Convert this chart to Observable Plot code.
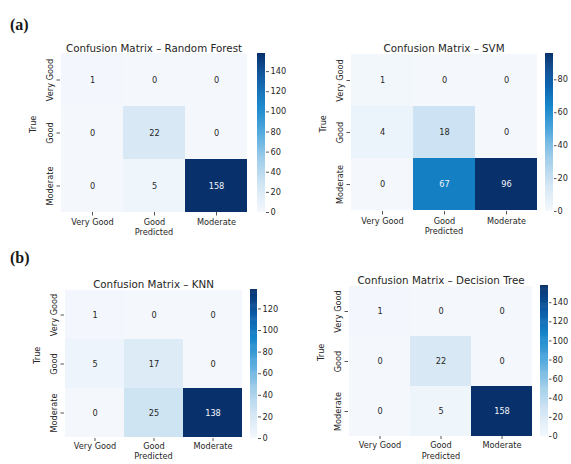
<!DOCTYPE html>
<html><head><meta charset="utf-8">
<script src="https://cdn.jsdelivr.net/npm/d3@7"></script>
<script src="https://cdn.jsdelivr.net/npm/@observablehq/plot@0.6"></script>
<style>
body{margin:0;background:#fff;}
#chart{position:relative;width:571px;height:464px;overflow:hidden;background:#fff;font-family:"DejaVu Sans",sans-serif;}
.panel-label{position:absolute;font-family:"Liberation Serif",serif;font-weight:bold;font-size:16px;color:#1a1a1a;line-height:1;}
#chart svg{position:absolute;overflow:visible;}
</style></head><body><div id="chart"></div>
<script>
// ---- data ----
const classes = ["Very Good", "Good", "Moderate"];
const panelLabels = ["(a)", "(b)"];
const modelTitles = ["Confusion Matrix – Random Forest", "Confusion Matrix – SVM", "Confusion Matrix – KNN", "Confusion Matrix – Decision Tree"];
const rfMatrix  = [[1, 0, 0], [0, 22, 0], [0, 5, 158]];
const svmMatrix = [[1, 0, 0], [4, 18, 0], [0, 67, 96]];
const knnMatrix = [[1, 0, 0], [5, 17, 0], [0, 25, 138]];
const dtMatrix  = [[1, 0, 0], [0, 22, 0], [0, 5, 158]];
const rfTicks  = [0, 20, 40, 60, 80, 100, 120, 140];
const svmTicks = [0, 20, 40, 60, 80];
const knnTicks = [0, 20, 40, 60, 80, 100, 120];
const dtTicks  = [0, 20, 40, 60, 80, 100, 120, 140];
const xLabel = "Predicted";
const yLabel = "True";

// ---- layout (not data) ----
const layouts = [
  {x: 60,  y: 53,  w: 187, h: 159, cbx: 257, cbw: 8, tk: 3, tp: 2, pdy: 22, xts: 3.5, xtp: 3.5},
  {x: 350, y: 53,  w: 187, h: 158, cbx: 545, cbw: 8, tk: 2.5, tp: 1.5, pdy: 22, xts: 3.5, xtp: 3.5},
  {x: 64,  y: 289, w: 178, h: 149, cbx: 250, cbw: 7, tk: 3, tp: 2, pdy: 20, xts: 3, xtp: 2},
  {x: 348, y: 285, w: 185, h: 151, cbx: 540, cbw: 8, tk: 2.5, tp: 1.5, pdy: 22, xts: 3, xtp: 2.5}
];
const labelPos = [{x: 10, y: 17}, {x: 10, y: 250}];

const blues = d3.piecewise(d3.interpolateRgb, ["#f4f8fd", "#d3e6f4", "#a0cdea", "#55aadd", "#1787cb", "#0b5aa5", "#08306b"]);
const ink = "#262626";
const chart = document.getElementById("chart");

function luminance(c) {
  const r = d3.rgb(c);
  const f = v => { v /= 255; return v <= 0.03928 ? v / 12.92 : Math.pow((v + 0.055) / 1.055, 2.4); };
  return 0.2126 * f(r.r) + 0.7152 * f(r.g) + 0.0722 * f(r.b);
}

function panel(matrix, title, ticks, L) {
  const max = d3.max(matrix.flat());
  const data = [];
  matrix.forEach((row, i) => row.forEach((v, j) => data.push({actual: classes[i], predicted: classes[j], value: v})));
  const isLight = d => luminance(blues(d.value / max)) > 0.408;
  const color = {type: "linear", domain: [0, max], interpolate: blues};
  const mL = 45, mT = 22, mB = 32, mR = 2;
  const hm = Plot.plot({
    width: L.w + mL + mR, height: L.h + mT + mB,
    marginLeft: mL, marginTop: mT, marginBottom: mB, marginRight: mR,
    style: {fontFamily: "DejaVu Sans", fontSize: "8.2px", color: ink, background: "transparent", overflow: "visible"},
    x: {domain: classes, padding: 0, axis: null},
    y: {domain: classes, padding: 0, axis: null},
    color,
    marks: [
      Plot.cell(data, {x: "predicted", y: "actual", fill: "value", shapeRendering: "crispEdges"}),
      Plot.text(data, {x: "predicted", y: "actual", text: d => String(d.value), fill: ink, fontSize: 8.2, filter: isLight}),
      Plot.text(data, {x: "predicted", y: "actual", text: d => String(d.value), fill: "#f2f6fb", fontSize: 8.2, filter: d => !isLight(d)}),
      Plot.axisX({anchor: "bottom", tickSize: L.xts, tickPadding: L.xtp, label: null, fontSize: 8.2, stroke: "#555"}),
      Plot.axisY({anchor: "left", tickSize: 3.5, tickPadding: 4, tickRotate: -90, label: null, fontSize: 8.2, stroke: "#555"}),
      Plot.text([xLabel], {text: d => d, frameAnchor: "bottom", dy: L.pdy, fontSize: 8.2, fill: ink}),
      Plot.text([yLabel], {text: d => d, frameAnchor: "left", dx: -27, rotate: -90, fontSize: 8.2, fill: ink}),
      Plot.text([title], {text: d => d, frameAnchor: "top", dy: -9, fontSize: 10.3, fill: ink})
    ]
  });
  hm.style.left = (L.x - mL) + "px";
  hm.style.top = (L.y - mT) + "px";
  chart.appendChild(hm);

  const N = 160, cm = 5;
  const cb = Plot.plot({
    width: L.cbw + 34, height: L.h + 2 * cm,
    marginLeft: 0, marginRight: 34, marginTop: cm, marginBottom: cm,
    style: {fontFamily: "DejaVu Sans", fontSize: "8.2px", color: ink, background: "transparent", overflow: "visible"},
    x: {domain: [0, 1], axis: null},
    y: {domain: [0, max], axis: null},
    color,
    marks: [
      Plot.rect(d3.range(N), {x1: 0, x2: 1, y1: i => i * max / N, y2: i => Math.min(max, (i + 1.6) * max / N), fill: i => (i + 0.5) * max / N}),
      Plot.axisY(ticks, {anchor: "right", tickSize: L.tk, tickPadding: L.tp, fontSize: 8.2, stroke: "#555", label: null})
    ]
  });
  cb.style.left = L.cbx + "px";
  cb.style.top = (L.y - cm) + "px";
  chart.appendChild(cb);
}

panel(rfMatrix, modelTitles[0], rfTicks, layouts[0]);
panel(svmMatrix, modelTitles[1], svmTicks, layouts[1]);
panel(knnMatrix, modelTitles[2], knnTicks, layouts[2]);
panel(dtMatrix, modelTitles[3], dtTicks, layouts[3]);

panelLabels.forEach((t, i) => {
  const d = document.createElement("div");
  d.className = "panel-label";
  d.textContent = t;
  d.style.left = labelPos[i].x + "px";
  d.style.top = labelPos[i].y + "px";
  chart.appendChild(d);
});
</script></body></html>
